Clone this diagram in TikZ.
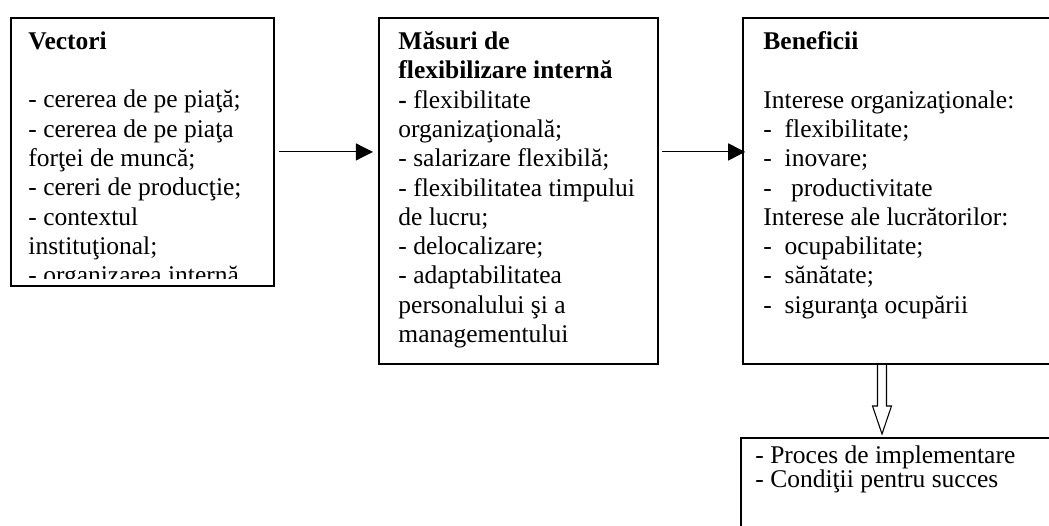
\documentclass[tikz,border=0pt]{standalone}
\usepackage{fontspec}
\setmainfont{Liberation Serif}
\usepackage{tikz}
\usetikzlibrary{arrows.meta,calc}
\tikzset{
    box/.style={draw, rectangle, line width=0.9pt, inner sep=0pt, anchor=north west},
    txt/.style={anchor=north west, inner sep=0pt, align=left, font=\fontsize{12}{13.8}\selectfont},
    flow/.style={-{Triangle[length=8pt,width=8pt]}, line width=0.5pt}}

\begin{document}
\begin{tikzpicture}[x=0.4706pt,y=-0.4706pt]
\clip (0,0) rectangle (1049,525);
\coordinate (V) at (10,17);
\coordinate (M) at (378,17);
\coordinate (B) at (742,17);
\coordinate (C) at (740,437);

\node[box, minimum width=123.8pt, minimum height=126.1pt] (vec) at (V) {};
\node[box, minimum width=131.3pt, minimum height=162.8pt] (mas) at (M) {};
\node[box, minimum width=168.5pt, minimum height=162.8pt] (ben) at (B) {};
\node[box, minimum width=169.4pt, minimum height=57.9pt] (cond) at (C) {};

\begin{scope}
\clip ($(vec.north west)$) rectangle ($(vec.south east)+(0,-8)$);
\node[txt] (vectxt) at ($(V)+(18,14)$) {\textbf{Vectori}\\[13.8pt]
- cererea de pe piaţă;\\
- cererea de pe piaţa\\
forţei de muncă;\\
- cereri de producţie;\\
- contextul\\
instituţional;\\
- organizarea internă};
\end{scope}

\node[txt] (mastxt) at ($(M)+(20,14)$) {\textbf{Măsuri de}\\
\textbf{flexibilizare internă}\\
\textbf{-} flexibilitate\\
organizaţională;\\
- salarizare flexibilă;\\
- flexibilitatea timpului\\
de lucru;\\
- delocalizare;\\
- adaptabilitatea\\
personalului şi a\\
managementului};

\node[txt] (bentxt) at ($(B)+(21,14)$) {\textbf{Beneficii}\\[13.8pt]
Interese organizaţionale:\\
- \ flexibilitate;\\
- \ inovare;\\
- \ \ productivitate\\
Interese ale lucrătorilor:\\
- \ ocupabilitate;\\
- \ sănătate;\\
- \ siguranţa ocupării};

\node[txt, font=\fontsize{12}{11.3}\selectfont] (condtxt) at ($(C)+(15,8)$) {- Proces de implementare\\
- Condiţii pentru succes};

\draw[flow, shorten <=2pt, shorten >=2.4pt] (vec.east) -- (mas.west |- vec.east);
\draw[flow, shorten <=1.5pt, shorten >=-1.5pt] (mas.east |- vec.east) -- (ben.west |- vec.east);

\coordinate (s) at ($(ben.south west)+(140,0)$);
\coordinate (t) at ($(cond.north west)+(142,-3)$);
\draw[line width=0.5pt] ($(s)+(-4.5,0)$) -- ($(s |- t)+(-4.5,-28)$) -- ($(s |- t)+(-9.5,-28)$)
    -- (s |- t) -- ($(s |- t)+(9.5,-28)$) -- ($(s |- t)+(4.5,-28)$) -- ($(s)+(4.5,0)$);
\end{tikzpicture}
\end{document}
